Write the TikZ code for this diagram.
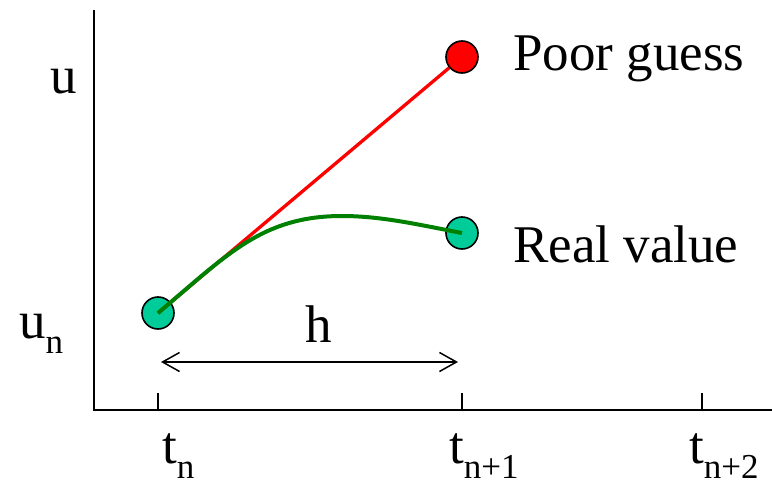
\documentclass[tikz,border=0pt]{standalone}
\usepackage{fontspec}
\setmainfont{Liberation Serif}
\usepackage{tikz}
\usetikzlibrary{arrows.meta}

\definecolor{pointfill}{RGB}{0,204,153}
\definecolor{curvegreen}{RGB}{0,128,0}
\newcommand{\sub}[1]{\raisebox{-15pt}[0pt][0pt]{\fontsize{35}{38}\selectfont #1}}

\begin{document}
\begin{tikzpicture}[x=1pt, y=-1pt, font=\fontsize{53}{60}\selectfont]
        \useasboundingbox (0, 0) rectangle (772, 482);
        % Axes and ticks:
        \coordinate (O) at (94, 410);
        \coordinate (Ytop) at (94, 10);
        \coordinate (Xend) at (772, 410);
        \draw[line width=2.3pt] (Ytop) -- (O) -- (Xend);
        \draw[line width=2pt] (158, 410) -- (158, 393);
        \draw[line width=2pt] (462, 410) -- (462, 393);
        \draw[line width=2pt] (702, 410) -- (702, 393);
        % Points, lines and curve:
        \coordinate (Pn) at (158, 313);
        \coordinate (Pguess) at (462, 57);
        \coordinate (Preal) at (462, 233);
        \coordinate (Ppeak) at (342, 216);
        \node[shape=circle, draw, line width=1.6pt, fill=pointfill, minimum size=32pt, inner sep=0pt](un) at (Pn){};
        \node[shape=circle, draw, line width=1.6pt, fill=pointfill, minimum size=32pt, inner sep=0pt](real) at (Preal){};
        \draw[red, line width=3.3pt] (un.center) -- (Pguess);
        \draw[curvegreen, line width=4pt] (un.center) .. controls (227, 255) and (262, 216) .. (Ppeak)
                .. controls (382, 216) and (420, 225) .. (real.center);
        \node[shape=circle, draw, line width=1.6pt, fill=red, minimum size=32pt, inner sep=0pt](guess) at (Pguess){};
        % Step arrow:
        \coordinate (hL) at (161, 362);
        \coordinate (hR) at (458, 362);
        \draw[line width=1.5pt, {Straight Barb[length=17pt, width=19pt]}-{Straight Barb[length=17pt, width=19pt]}] (hL) -- (hR);
        \node[anchor=base west, inner sep=0pt](h) at (305, 342){h};
        % Labels:
        \node[anchor=base west, inner sep=0pt](u) at (50, 93){u};
        \node[anchor=base west, inner sep=0pt](un label) at (19, 338){u\sub{n}};
        \node[anchor=base west, inner sep=0pt](tn) at (162, 463){t\sub{n}};
        \node[anchor=base west, inner sep=0pt](tn1) at (449, 463){t\sub{n+1}};
        \node[anchor=base west, inner sep=0pt](tn2) at (689, 463){t\sub{n+2}};
        \node[anchor=base west, inner sep=0pt](guess label) at (513, 70){Poor guess};
        \node[anchor=base west, inner sep=0pt](real label) at (513, 262){Real value};
    \end{tikzpicture}
\end{document}
